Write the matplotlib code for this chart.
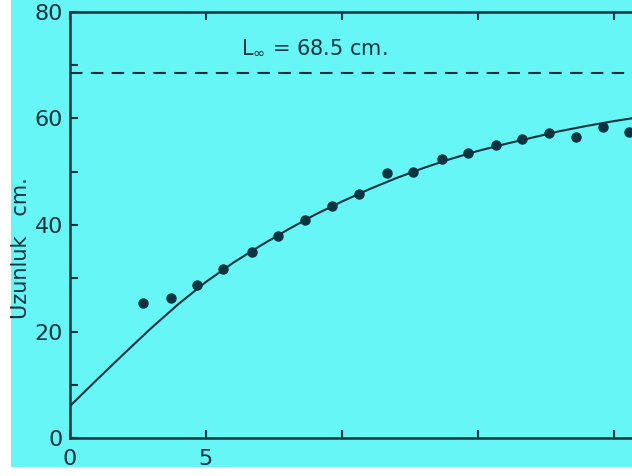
import matplotlib.pyplot as plt
from matplotlib.patches import Rectangle

plt.rcParams.update({"font.family": ["DejaVu Sans"]})

# observed mean lengths by age
age = [2.68, 3.71, 4.67, 5.63, 6.69, 7.65, 8.64, 9.63, 10.63, 11.65,
       12.61, 13.68, 14.63, 15.66, 16.62, 17.61, 18.60, 19.60, 20.55]
length = [25.4, 26.3, 28.7, 31.7, 34.9, 37.9, 40.9, 43.6, 45.8, 49.8,
          50.0, 52.4, 53.5, 55.0, 56.2, 57.3, 56.5, 58.4, 57.5]

# fitted growth curve
curve_age = list(range(0, 22))
curve_len = [6.0, 11.0, 15.9, 20.7, 25.2, 29.3, 32.9, 36.1, 39.1, 41.9, 44.4,
             46.7, 48.8, 50.7, 52.4, 53.9, 55.2, 56.4, 57.6, 58.6, 59.5, 60.3]

l_inf = 68.5
x_ticks = [0, 5, 10, 15, 20]
x_labels = ["0", "5", "", "", ""]
y_ticks = [0, 10, 20, 30, 40, 50, 60, 70, 80]
y_labels = ["0", "", "20", "", "40", "", "60", "", "80"]

ink = "#0c3340"
bg = "#66f6f6"

fig = plt.figure(figsize=(6.32, 4.76), dpi=100)
fig.patch.set_facecolor("white")
fig.add_artist(Rectangle((11 / 632, 9 / 476), 1, 1, transform=fig.transFigure,
                         facecolor=bg, edgecolor="none", zorder=-10))

ax = fig.add_axes([70 / 632, 38 / 476, 598 / 632, 426 / 476])
ax.set_facecolor("none")

ax.plot(curve_age, curve_len, color=ink, lw=1.5)
ax.plot(age, length, "o", color=ink, ms=6.5)
ax.axhline(l_inf, color=ink, lw=1.5, dashes=(6, 4))
ax.text(6.3, 73.4, r"L$_{\infty}$ = 68.5 cm.", color=ink, fontsize=15, va="center")

ax.set_xlim(0, 22)
ax.set_ylim(0, 80)
ax.set_xticks(x_ticks)
ax.set_xticklabels(x_labels)
ax.set_yticks(y_ticks)
ax.set_yticklabels(y_labels)
ax.tick_params(direction="in", length=6, width=1.5, colors=ink, labelsize=16,
               top=True, right=False)
ax.tick_params(axis="y", pad=5)
ax.tick_params(axis="x", pad=8)

for side in ["left", "bottom", "top"]:
    ax.spines[side].set_color(ink)
    ax.spines[side].set_linewidth(1.8)
ax.spines["right"].set_visible(False)

ax.set_ylabel("Uzunluk   cm.", color=ink, fontsize=15)
ax.yaxis.set_label_coords(-0.066, 0.445)

fig.savefig("out.png", dpi=100, facecolor=fig.get_facecolor())
